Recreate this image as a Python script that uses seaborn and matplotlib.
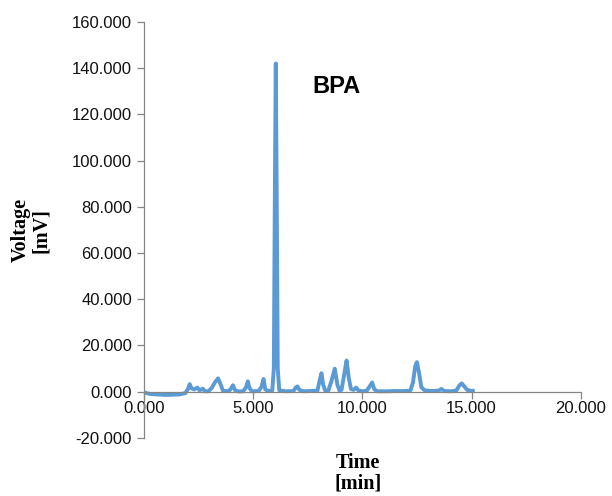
# 크로마토그램 (BPA)
import matplotlib
matplotlib.use('Agg')
import matplotlib.pyplot as plt
import matplotlib.ticker as mticker
import seaborn as sns
import pandas as pd

# 데이터
time_min = [0.00, 0.30, 1.00, 1.60, 1.90, 2.02, 2.10, 2.18, 2.30, 2.45,
            2.55, 2.70, 2.80, 2.95, 3.10, 3.25, 3.40, 3.52, 3.62, 3.80,
            3.95, 4.08, 4.18, 4.35, 4.55, 4.68, 4.76, 4.84, 4.95, 5.25,
            5.38, 5.48, 5.56, 5.70, 5.88, 5.95, 6.00, 6.04, 6.08, 6.13,
            6.20, 6.50, 6.85, 6.95, 7.03, 7.12, 7.30, 7.60, 7.95, 8.05,
            8.13, 8.21, 8.30, 8.45, 8.60, 8.74, 8.86, 8.95, 9.05, 9.18,
            9.28, 9.38, 9.48, 9.60, 9.72, 9.82, 10.00, 10.20, 10.35, 10.45,
            10.55, 10.70, 11.10, 11.50, 11.90, 12.20, 12.32, 12.42, 12.50, 12.60,
            12.70, 12.85, 13.20, 13.50, 13.62, 13.75, 14.05, 14.30, 14.45, 14.55,
            14.65, 14.80, 15.00, 15.07]
voltage_mv = [-0.3, -1.0, -1.4, -1.2, -0.6, 1.2, 3.3, 1.5, 1.0, 1.8,
              0.6, 1.3, 0.2, 0.2, 1.5, 4.0, 5.8, 3.0, 0.5, 0.2,
              0.8, 2.8, 0.6, 0.1, 0.2, 2.0, 4.5, 1.5, 0.2, 0.3,
              2.0, 5.5, 1.0, 0.3, 0.5, 10.0, 90.0, 142.0, 90.0, 10.0,
              0.6, 0.2, 0.3, 1.8, 2.3, 0.8, 0.2, 0.3, 0.5, 5.0,
              8.0, 3.0, 0.5, 0.6, 5.0, 10.0, 3.0, 0.6, 0.8, 8.0,
              13.5, 6.0, 1.2, 0.8, 1.8, 0.6, 0.2, 0.4, 2.5, 4.0,
              1.0, 0.2, 0.2, 0.3, 0.3, 0.5, 4.0, 11.0, 12.8, 8.0,
              2.0, 0.6, 0.3, 0.5, 1.2, 0.3, 0.2, 0.5, 2.8, 3.6,
              2.5, 0.8, 0.3, 0.5]
x_ticks = [0, 5, 10, 15, 20]
y_ticks = [-20, 0, 20, 40, 60, 80, 100, 120, 140, 160]

df = pd.DataFrame({'time': time_min, 'voltage': voltage_mv})

sns.set_style('white')
plt.rcParams['font.family'] = ['Liberation Sans', 'DejaVu Sans']

fig = plt.figure(figsize=(6.12, 4.96), dpi=100)
ax = fig.add_axes([0.235, 0.117, 0.714, 0.839])

sns.lineplot(x='time', y='voltage', data=df, ax=ax, color='#5B9BD5',
             linewidth=2.8, estimator=None, sort=False)

ax.set_xlim(0, 20)
ax.set_ylim(-20, 160)
ax.set_xticks(x_ticks)
ax.set_yticks(y_ticks)
ax.xaxis.set_major_formatter(mticker.FormatStrFormatter('%.3f'))
ax.yaxis.set_major_formatter(mticker.FormatStrFormatter('%.3f'))

# 축 모양 (Excel 스타일)
for s in ['top', 'right']:
    ax.spines[s].set_visible(False)
ax.spines['bottom'].set_position(('data', 0))
for s in ['left', 'bottom']:
    ax.spines[s].set_color('#868686')
    ax.spines[s].set_linewidth(0.9)
ax.tick_params(axis='both', which='major', direction='out', length=5,
               width=0.9, color='#868686', labelsize=12, labelcolor='#111111',
               bottom=True, left=True)
ax.tick_params(axis='x', pad=2)

ax.set_xlabel('')
ax.set_ylabel('')
fig.text(0.585, 0.046, 'Time\n[min]', ha='center', va='center',
         family='Liberation Serif', fontweight='bold', fontsize=14.5,
         linespacing=1.0, color='black')
fig.text(0.05, 0.536, 'Voltage\n[mV]', ha='center', va='center',
         rotation=90, family='Liberation Serif', fontweight='bold',
         fontsize=14.5, linespacing=1.0, color='black')

ax.text(8.83, 132, 'BPA', ha='center', va='center', fontsize=17,
        fontweight='bold', color='black')

fig.savefig('out.png', dpi=100)
